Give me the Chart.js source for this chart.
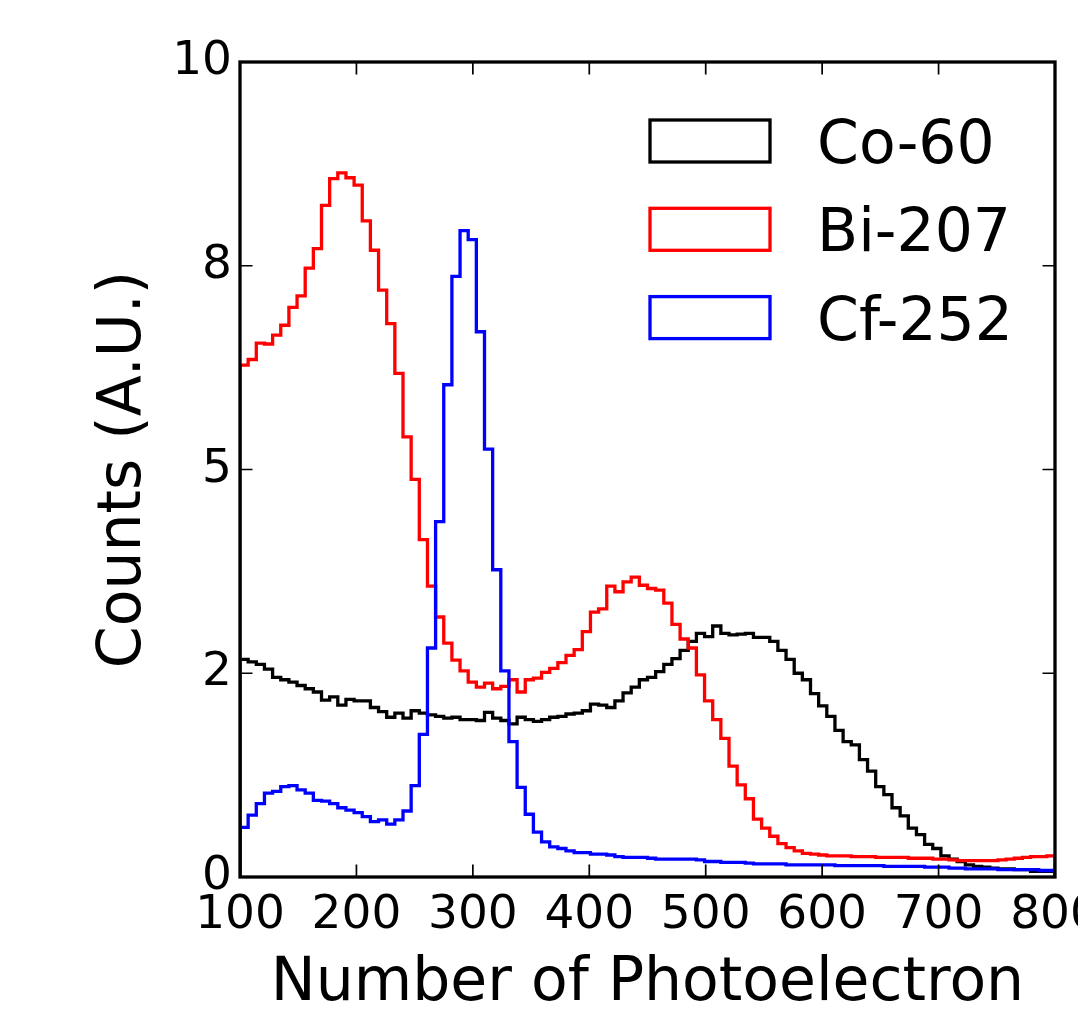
<!DOCTYPE html>
<html><head><meta charset="utf-8">
<script src="https://cdn.jsdelivr.net/npm/chart.js@4.4.1/dist/chart.umd.min.js"></script>
<style>html,body{margin:0;padding:0;overflow:hidden;background:#fff;width:1078px;height:1017px}canvas{display:block}</style>
</head><body>
<canvas id="c" width="1120" height="1017"></canvas>
<script>
// ---- data ----
const seriesNames = ['Co-60', 'Bi-207', 'Cf-252'];
const seriesColors = ['#000000', '#ff0000', '#0000ff'];
const binStart = 100, binWidth = 7, binCount = 100;
const xTickValues = [100, 200, 300, 400, 500, 600, 700, 800];
const yTickValues = [0, 2.5, 5, 7.5, 10];
const yTickLabels = ['0', '2', '5', '8', '10'];
const xTitle = 'Number of Photoelectron';
const yTitle = 'Counts (A.U.)';

const co60 = [2.67,2.64,2.61,2.55,2.45,2.42,2.39,2.35,2.31,2.27,
  2.17,2.21,2.11,2.18,2.16,2.16,2.08,2.03,1.96,2.01,
  1.95,2.04,2.01,1.99,1.97,1.95,1.96,1.93,1.93,1.92,
  2.02,1.95,1.92,1.88,1.96,1.93,1.91,1.93,1.96,1.97,
  2.00,2.01,2.04,2.12,2.11,2.08,2.16,2.26,2.33,2.42,
  2.45,2.52,2.61,2.68,2.78,2.89,2.99,2.95,3.08,2.99,
  2.97,2.98,2.99,2.94,2.94,2.89,2.78,2.67,2.50,2.42,
  2.25,2.10,1.97,1.80,1.66,1.62,1.44,1.30,1.11,1.01,
  0.85,0.75,0.60,0.52,0.40,0.35,0.26,0.22,0.19,0.15,
  0.13,0.12,0.11,0.10,0.10,0.09,0.09,0.07,0.07,0.07];

const bi207 = [6.28,6.35,6.55,6.54,6.65,6.77,6.99,7.13,7.47,7.71,
  8.24,8.57,8.64,8.58,8.49,8.05,7.69,7.20,6.79,6.18,
  5.40,4.88,4.14,3.57,3.19,2.87,2.66,2.53,2.39,2.33,
  2.38,2.31,2.34,2.42,2.27,2.42,2.44,2.51,2.56,2.63,
  2.72,2.79,3.01,3.25,3.29,3.57,3.50,3.62,3.68,3.58,
  3.54,3.52,3.36,3.10,2.92,2.81,2.48,2.16,1.93,1.70,
  1.36,1.13,0.96,0.71,0.60,0.50,0.41,0.36,0.32,0.29,
  0.28,0.27,0.26,0.26,0.26,0.25,0.25,0.25,0.24,0.24,
  0.24,0.24,0.23,0.23,0.23,0.22,0.22,0.21,0.20,0.20,
  0.20,0.20,0.20,0.21,0.22,0.23,0.24,0.25,0.25,0.26];

const cf252 = [0.61,0.76,0.90,1.03,1.05,1.11,1.12,1.07,1.03,0.94,
  0.93,0.90,0.85,0.82,0.79,0.74,0.68,0.70,0.65,0.70,
  0.81,1.12,1.75,2.81,4.36,6.04,7.37,7.93,7.82,6.69,
  5.25,3.77,2.53,1.66,1.10,0.77,0.55,0.43,0.37,0.35,
  0.32,0.30,0.30,0.28,0.28,0.27,0.25,0.24,0.24,0.24,
  0.23,0.22,0.22,0.22,0.22,0.22,0.21,0.19,0.19,0.18,
  0.18,0.18,0.17,0.16,0.16,0.16,0.16,0.15,0.15,0.15,
  0.15,0.15,0.15,0.14,0.14,0.14,0.14,0.14,0.14,0.13,
  0.13,0.13,0.13,0.13,0.12,0.12,0.12,0.11,0.11,0.10,
  0.10,0.10,0.10,0.09,0.09,0.09,0.09,0.09,0.08,0.08];

const seriesValues = [co60, bi207, cf252];

// bin edges (category positions)
const binEdges = [];
for (let i = 0; i <= binCount; i++) binEdges.push(binStart + i * binWidth);

// step outline: rise at first edge, steps across bins, drop at last edge
function histPoints(values) {
  const pts = [{x: binEdges[0], y: 0}];
  values.forEach((v, i) => pts.push({x: binEdges[i + 1], y: v}));
  pts.push({x: binEdges[binEdges.length - 1], y: 0});
  return pts;
}

const FONT = '"DejaVu Sans", "Liberation Sans", sans-serif';
const LW = 3.3;
const TICK_LEN = 12.5;

const frameTicks = {
  id: 'frameTicks',
  afterDraw(chart) {
    const {ctx, chartArea: a, scales} = chart;
    ctx.save();
    ctx.strokeStyle = '#000';
    ctx.lineWidth = 1.7;
    ctx.beginPath();
    xTickValues.forEach(v => {
      const px = scales.x.getPixelForValue(v);
      ctx.moveTo(px, a.bottom); ctx.lineTo(px, a.bottom - TICK_LEN);
      ctx.moveTo(px, a.top); ctx.lineTo(px, a.top + TICK_LEN);
    });
    yTickValues.forEach(v => {
      const py = scales.y.getPixelForValue(v);
      ctx.moveTo(a.left, py); ctx.lineTo(a.left + TICK_LEN, py);
      ctx.moveTo(a.right, py); ctx.lineTo(a.right - TICK_LEN, py);
    });
    ctx.stroke();
    ctx.lineWidth = LW;
    ctx.strokeRect(a.left, a.top, a.right - a.left, a.bottom - a.top);
    ctx.restore();
  }
};

const legendBoxes = {
  id: 'legendBoxes',
  afterDraw(chart) {
    const {ctx, chartArea: a} = chart;
    ctx.save();
    chart.data.datasets.forEach((ds, i) => {
      const bx = a.right - 405, by = a.top + 58 + i * 88.3;
      ctx.lineWidth = LW;
      ctx.strokeStyle = ds.borderColor;
      ctx.strokeRect(bx, by, 120, 42);
      ctx.fillStyle = '#000';
      ctx.font = '60px ' + FONT;
      ctx.textBaseline = 'alphabetic';
      ctx.textAlign = 'left';
      ctx.fillText(ds.label, bx + 167, by + 43);
    });
    ctx.restore();
  }
};

new Chart(document.getElementById('c'), {
  type: 'line',
  data: {
    datasets: seriesNames.map((name, i) => ({
      label: name,
      data: histPoints(seriesValues[i]),
      borderColor: seriesColors[i],
      borderWidth: LW,
      pointRadius: 0,
      fill: false,
      tension: 0,
      stepped: 'after',
      borderJoinStyle: 'miter',
      order: seriesNames.length - i
    }))
  },
  options: {
    responsive: false,
    animation: false,
    events: [],
    layout: {padding: {top: 62, right: 65, left: 0, bottom: 0}},
    plugins: {legend: {display: false}, tooltip: {enabled: false}},
    scales: {
      x: {
        type: 'linear', min: 100, max: 800,
        border: {display: false},
        grid: {display: false, drawTicks: false},
        ticks: {
          stepSize: 100, autoSkip: false, maxRotation: 0, minRotation: 0,
          padding: 11, color: '#000', font: {family: FONT, size: 47}
        },
        afterBuildTicks(s) { s.ticks = xTickValues.map(v => ({value: v})); },
        title: {display: true, text: xTitle, color: '#000',
          font: {family: FONT, size: 60, lineHeight: 1}, padding: {top: 0, bottom: 3}},
        afterFit(s) { s.height = 140; }
      },
      y: {
        type: 'linear', min: 0, max: 10,
        border: {display: false},
        grid: {display: false, drawTicks: false},
        ticks: {
          padding: 8, color: '#000', font: {family: FONT, size: 47},
          callback: (v, i) => yTickLabels[i]
        },
        afterBuildTicks(s) { s.ticks = yTickValues.map(v => ({value: v})); },
        title: {display: true, text: yTitle, color: '#000',
          font: {family: FONT, size: 60, lineHeight: 1}, padding: {top: 94, bottom: 0}},
        afterFit(s) { s.width = 240; }
      }
    }
  },
  plugins: [frameTicks, legendBoxes]
});
</script>
</body></html>
